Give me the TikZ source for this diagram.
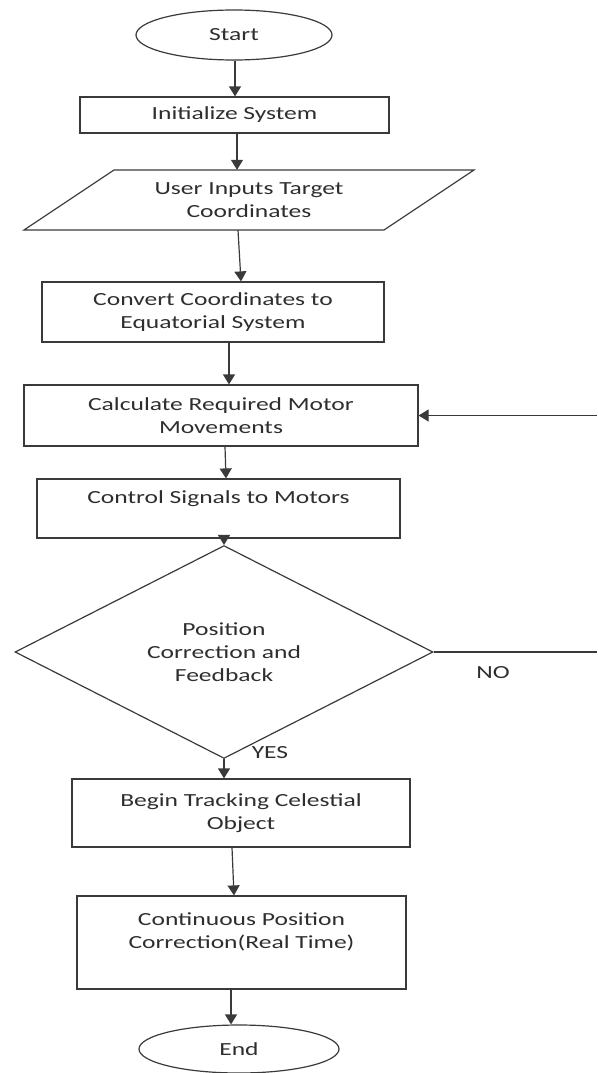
\documentclass[tikz,border=0pt]{standalone}
\usepackage{fontspec}
\setmainfont{Carlito}[FakeStretch=1.38]
\usetikzlibrary{shapes.geometric,arrows.meta,calc}
\definecolor{ln}{HTML}{3A3A3A}
\definecolor{tx}{HTML}{2E2E2E}
\begin{document}
\begin{tikzpicture}[x=1pt,y=-1pt,
  every node/.style={font=\fontsize{18.5}{23}\selectfont, text=tx},
  boxn/.style={draw=ln, line width=1.2pt, rectangle, inner sep=0pt, align=center},
  ovaln/.style={draw=ln, line width=1.2pt, ellipse, inner sep=0pt},
  decn/.style={draw=ln, line width=1.2pt, diamond, inner sep=0pt, align=center},
  plain/.style={draw=ln, line width=1.2pt},
  flow/.style={draw=ln, line width=1.2pt, -{Triangle[width=12pt,length=10pt]}},
]
\useasboundingbox (0,0) rectangle (597,1073);

\node[ovaln, minimum width=196pt, minimum height=50pt] (start) at (234,35) {Start};
\node[boxn, minimum width=309pt, minimum height=36pt] (init) at (234.5,115) {Initialize System};
\node[align=center, inner sep=0pt, minimum width=300pt, minimum height=60pt] (input) at (249,200) {User Inputs Target\\Coordinates};
\draw[plain] (114,170) -- (474,170) -- (384,230) -- (24,230) -- cycle;
\node[boxn, minimum width=342pt, minimum height=60pt] (conv) at (213,312) {Convert Coordinates to\\Equatorial System};
\node[boxn, minimum width=394pt, minimum height=61pt] (calc) at (221,415.5) {Calculate Required Motor\\Movements};
\node[boxn, minimum width=363pt, minimum height=59pt] (ctrl) at (218.5,508.5) {Control Signals to Motors\\\mbox{}};
\node[decn, minimum width=418pt, minimum height=174pt] (dec) at (224,652) {Position\\Correction and\\Feedback};
\node[boxn, minimum width=338pt, minimum height=68pt] (begin) at (241,813) {Begin Tracking Celestial\\Object};
\node[boxn, minimum width=329pt, minimum height=93pt] (cont) at (241.5,942.5) {Continuous Position\\Correction(Real Time)\\\mbox{}};
\node[ovaln, minimum width=200pt, minimum height=48pt] (end) at (239,1049) {End};
\node (no) at (493,673) {NO};
\node (yes) at (270,753) {YES};
\coordinate (edgeA) at (597,652);
\coordinate (edgeB) at (597,415.5);

\draw[flow] ([xshift=1pt]start.south) -- ([xshift=0.5pt]init.north);
\draw[flow] ([xshift=2.5pt]init.south) -- ([xshift=-12pt]input.north);
\draw[flow] ([xshift=-11pt]input.south) -- ([xshift=28pt]conv.north);
\draw[flow] ([xshift=16pt]conv.south) -- ([xshift=8pt]calc.north);
\draw[flow] ([xshift=4pt]calc.south) -- ([xshift=7.5pt]ctrl.north);
\draw[flow] ([xshift=5.5pt]ctrl.south) -- (dec.north);
\draw[flow] (dec.south) -- ([xshift=-17pt]begin.north);
\draw[flow] ([xshift=-9pt]begin.south) -- ([xshift=-7.5pt]cont.north);
\draw[flow] ([xshift=-10.5pt]cont.south) -- ([xshift=-8pt]end.north);
\draw[plain] (dec.east) -- (edgeA);
\draw[flow] (edgeB) -- (calc.east);
\end{tikzpicture}
\end{document}
